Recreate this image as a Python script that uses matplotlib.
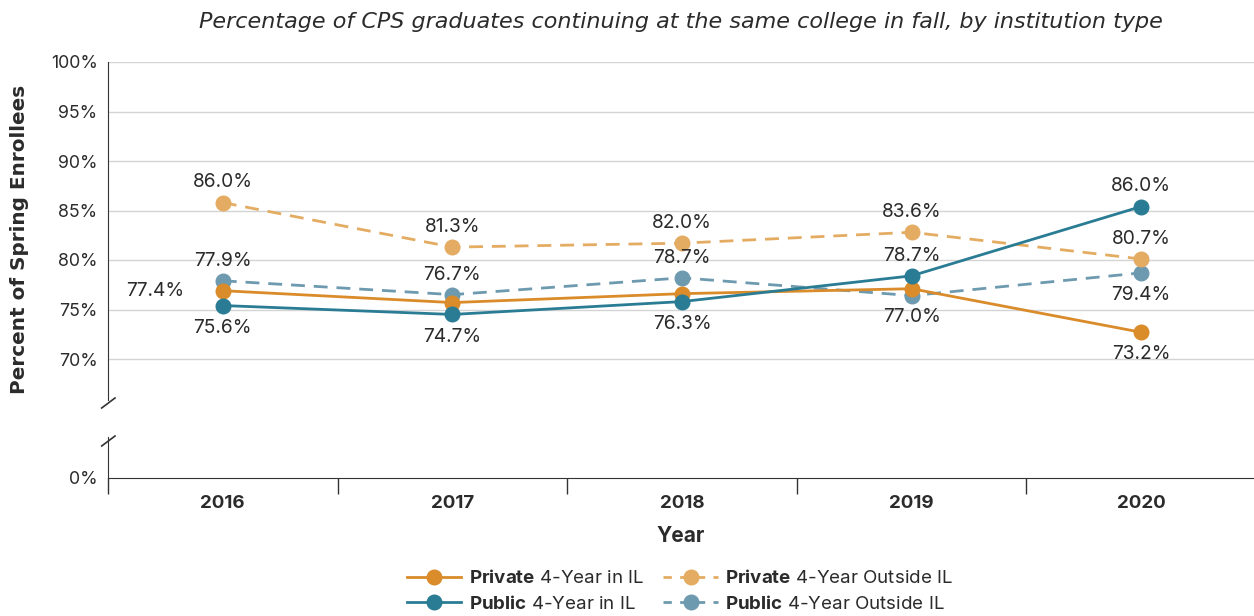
import matplotlib
matplotlib.use("Agg")
import matplotlib.pyplot as plt
from matplotlib.lines import Line2D

# Data
years = ["2016", "2017", "2018", "2019", "2020"]

private_il = [76.9, 75.7, 76.6, 77.1, 72.7]
private_out = [85.8, 81.3, 81.7, 82.8, 80.1]
public_il = [75.4, 74.5, 75.8, 78.4, 85.4]
public_out = [77.9, 76.5, 78.2, 76.4, 78.7]

# Data labels as printed on the chart (None = no label)
private_il_labels = ["77.4%", None, None, "77.0%", "73.2%"]
private_out_labels = ["86.0%", "81.3%", "82.0%", "83.6%", "80.7%"]
public_il_labels = ["75.6%", "74.7%", "76.3%", "78.7%", "86.0%"]
public_out_labels = ["77.9%", "76.7%", "78.7%", None, "79.4%"]

y_ticks = [70, 75, 80, 85, 90, 95, 100]

FONT = "Inter"
plt.rcParams["font.family"] = [FONT, "DejaVu Sans"]
plt.rcParams["mathtext.fontset"] = "custom"
plt.rcParams["mathtext.rm"] = FONT
plt.rcParams["mathtext.bf"] = FONT + ":bold"

c_priv_il = "#DA8B2A"
c_priv_out = "#E4AC62"
c_pub_il = "#2A7C94"
c_pub_out = "#6E9AB0"
txt = "#2b2b2b"
spine_c = "#333333"

W, H = 1254, 616
fig = plt.figure(figsize=(W / 100, H / 100), dpi=100)

left = 108 / W
width = 1148 / W
ax = fig.add_axes([left, 1 - 400 / H, width, 338 / H])
axb = fig.add_axes([left, 1 - 478 / H, width, 41 / H])

x = list(range(len(years)))
for a in (ax, axb):
    a.set_xlim(-0.5, 4.5)
    a.spines["top"].set_visible(False)
    a.spines["right"].set_visible(False)
    a.spines["left"].set_color(spine_c)
    a.spines["bottom"].set_color(spine_c)
    a.patch.set_alpha(0)

# top panel
ax.set_ylim(70 - 41 / 9.9, 100)
ax.spines["bottom"].set_visible(False)
ax.set_yticks(y_ticks)
ax.set_yticklabels([f"{v}%" for v in y_ticks])
ax.tick_params(axis="y", length=0, pad=7.5, labelsize=12.8, labelcolor=txt)
ax.set_xticks([])
ax.grid(axis="y", color="#d4d4d4", linewidth=1)
ax.set_axisbelow(True)

series = [
    (public_out, public_out_labels, ["above", "above", "above", None, "below"], c_pub_out, "--"),
    (private_out, private_out_labels, ["above"] * 5, c_priv_out, "--"),
    (private_il, private_il_labels, ["left", None, None, "below2", "below"], c_priv_il, "-"),
    (public_il, public_il_labels, ["below", "below", "below", "above", "above"], c_pub_il, "-"),
]

offsets = {"above": (0, 14.5), "below": (0, -16), "below2": (0, -20.5), "left": (-49, 0)}

for vals, labels, where, color, ls in series:
    kw = dict(color=color, linewidth=2, marker="o", markersize=10.5, clip_on=False)
    if ls == "--":
        ax.plot(x, vals, linestyle=(0, (5, 3.2)), **kw)
    else:
        ax.plot(x, vals, linestyle="-", **kw)
    for xi, v, lab, w in zip(x, vals, labels, where):
        if lab is None:
            continue
        ax.annotate(lab, (xi, v), xytext=offsets[w], textcoords="offset points",
                    ha="center", va="center", fontsize=13.8, color=txt)

# bottom panel (0%)
axb.set_ylim(0, 4)
axb.set_yticks([0])
axb.set_yticklabels(["0%"])
axb.tick_params(axis="y", length=0, pad=7.5, labelsize=12.8, labelcolor=txt)
axb.set_xticks(x)
axb.set_xticklabels(years, fontweight="bold", fontsize=13.5, color=txt)
axb.set_xticks([-0.5, 0.5, 1.5, 2.5, 3.5], minor=True)
axb.tick_params(axis="x", which="major", length=0, pad=12)
axb.tick_params(axis="x", which="minor", length=11.5, width=1, color=spine_c, direction="out")

# break marks on the y axis
for y0, y1 in [(408, 398), (446, 436)]:
    fig.add_artist(Line2D([101.7 / W, 115 / W], [1 - y0 / H, 1 - y1 / H],
                          color=spine_c, linewidth=1.2))

title = fig.text(681 / W, 1 - 22 / H,
                 "Percentage of CPS graduates continuing at the same college in fall, by institution type",
                 ha="center", va="center", fontsize=14, style="italic",
                 color=txt, family=["DejaVu Sans"])
ylab = fig.text(20 / W, 1 - 239 / H, "Percent of Spring Enrollees", rotation=90,
                ha="center", va="center", fontsize=13, fontweight="bold", color=txt,
                family=["DejaVu Sans"])
fig.text(681 / W, 1 - 536 / H, "Year", ha="center", va="center",
         fontsize=15, fontweight="bold", color=txt)

# scale title / axis label so they span the same length as in the reference
renderer = fig.canvas.get_renderer()
for t, target, horiz in [(title, 968, True), (ylab, 308, False)]:
    bb = t.get_window_extent(renderer)
    size = bb.width if horiz else bb.height
    t.set_fontsize(t.get_fontsize() * target / size)

handles = [
    Line2D([], [], color=c_priv_il, lw=2, marker="o", markersize=10.5),
    Line2D([], [], color=c_pub_il, lw=2, marker="o", markersize=10.5),
    Line2D([], [], color=c_priv_out, lw=2, ls=(0, (3, 3)), marker="o", markersize=10.5),
    Line2D([], [], color=c_pub_out, lw=2, ls=(0, (3, 3)), marker="o", markersize=10.5),
]
labels = [
    r"$\bf{Private}$ 4-Year in IL",
    r"$\bf{Public}$ 4-Year in IL",
    r"$\bf{Private}$ 4-Year Outside IL",
    r"$\bf{Public}$ 4-Year Outside IL",
]
leg = fig.legend(handles, labels, ncol=2, loc="center", bbox_to_anchor=(680 / W, 1 - 591 / H),
                 frameon=False, fontsize=13.5, handlelength=2.9, columnspacing=1.05,
                 labelspacing=0.42, handletextpad=0.4, borderpad=0)
for t in leg.get_texts():
    t.set_color(txt)

fig.savefig("out.png", dpi=100)
